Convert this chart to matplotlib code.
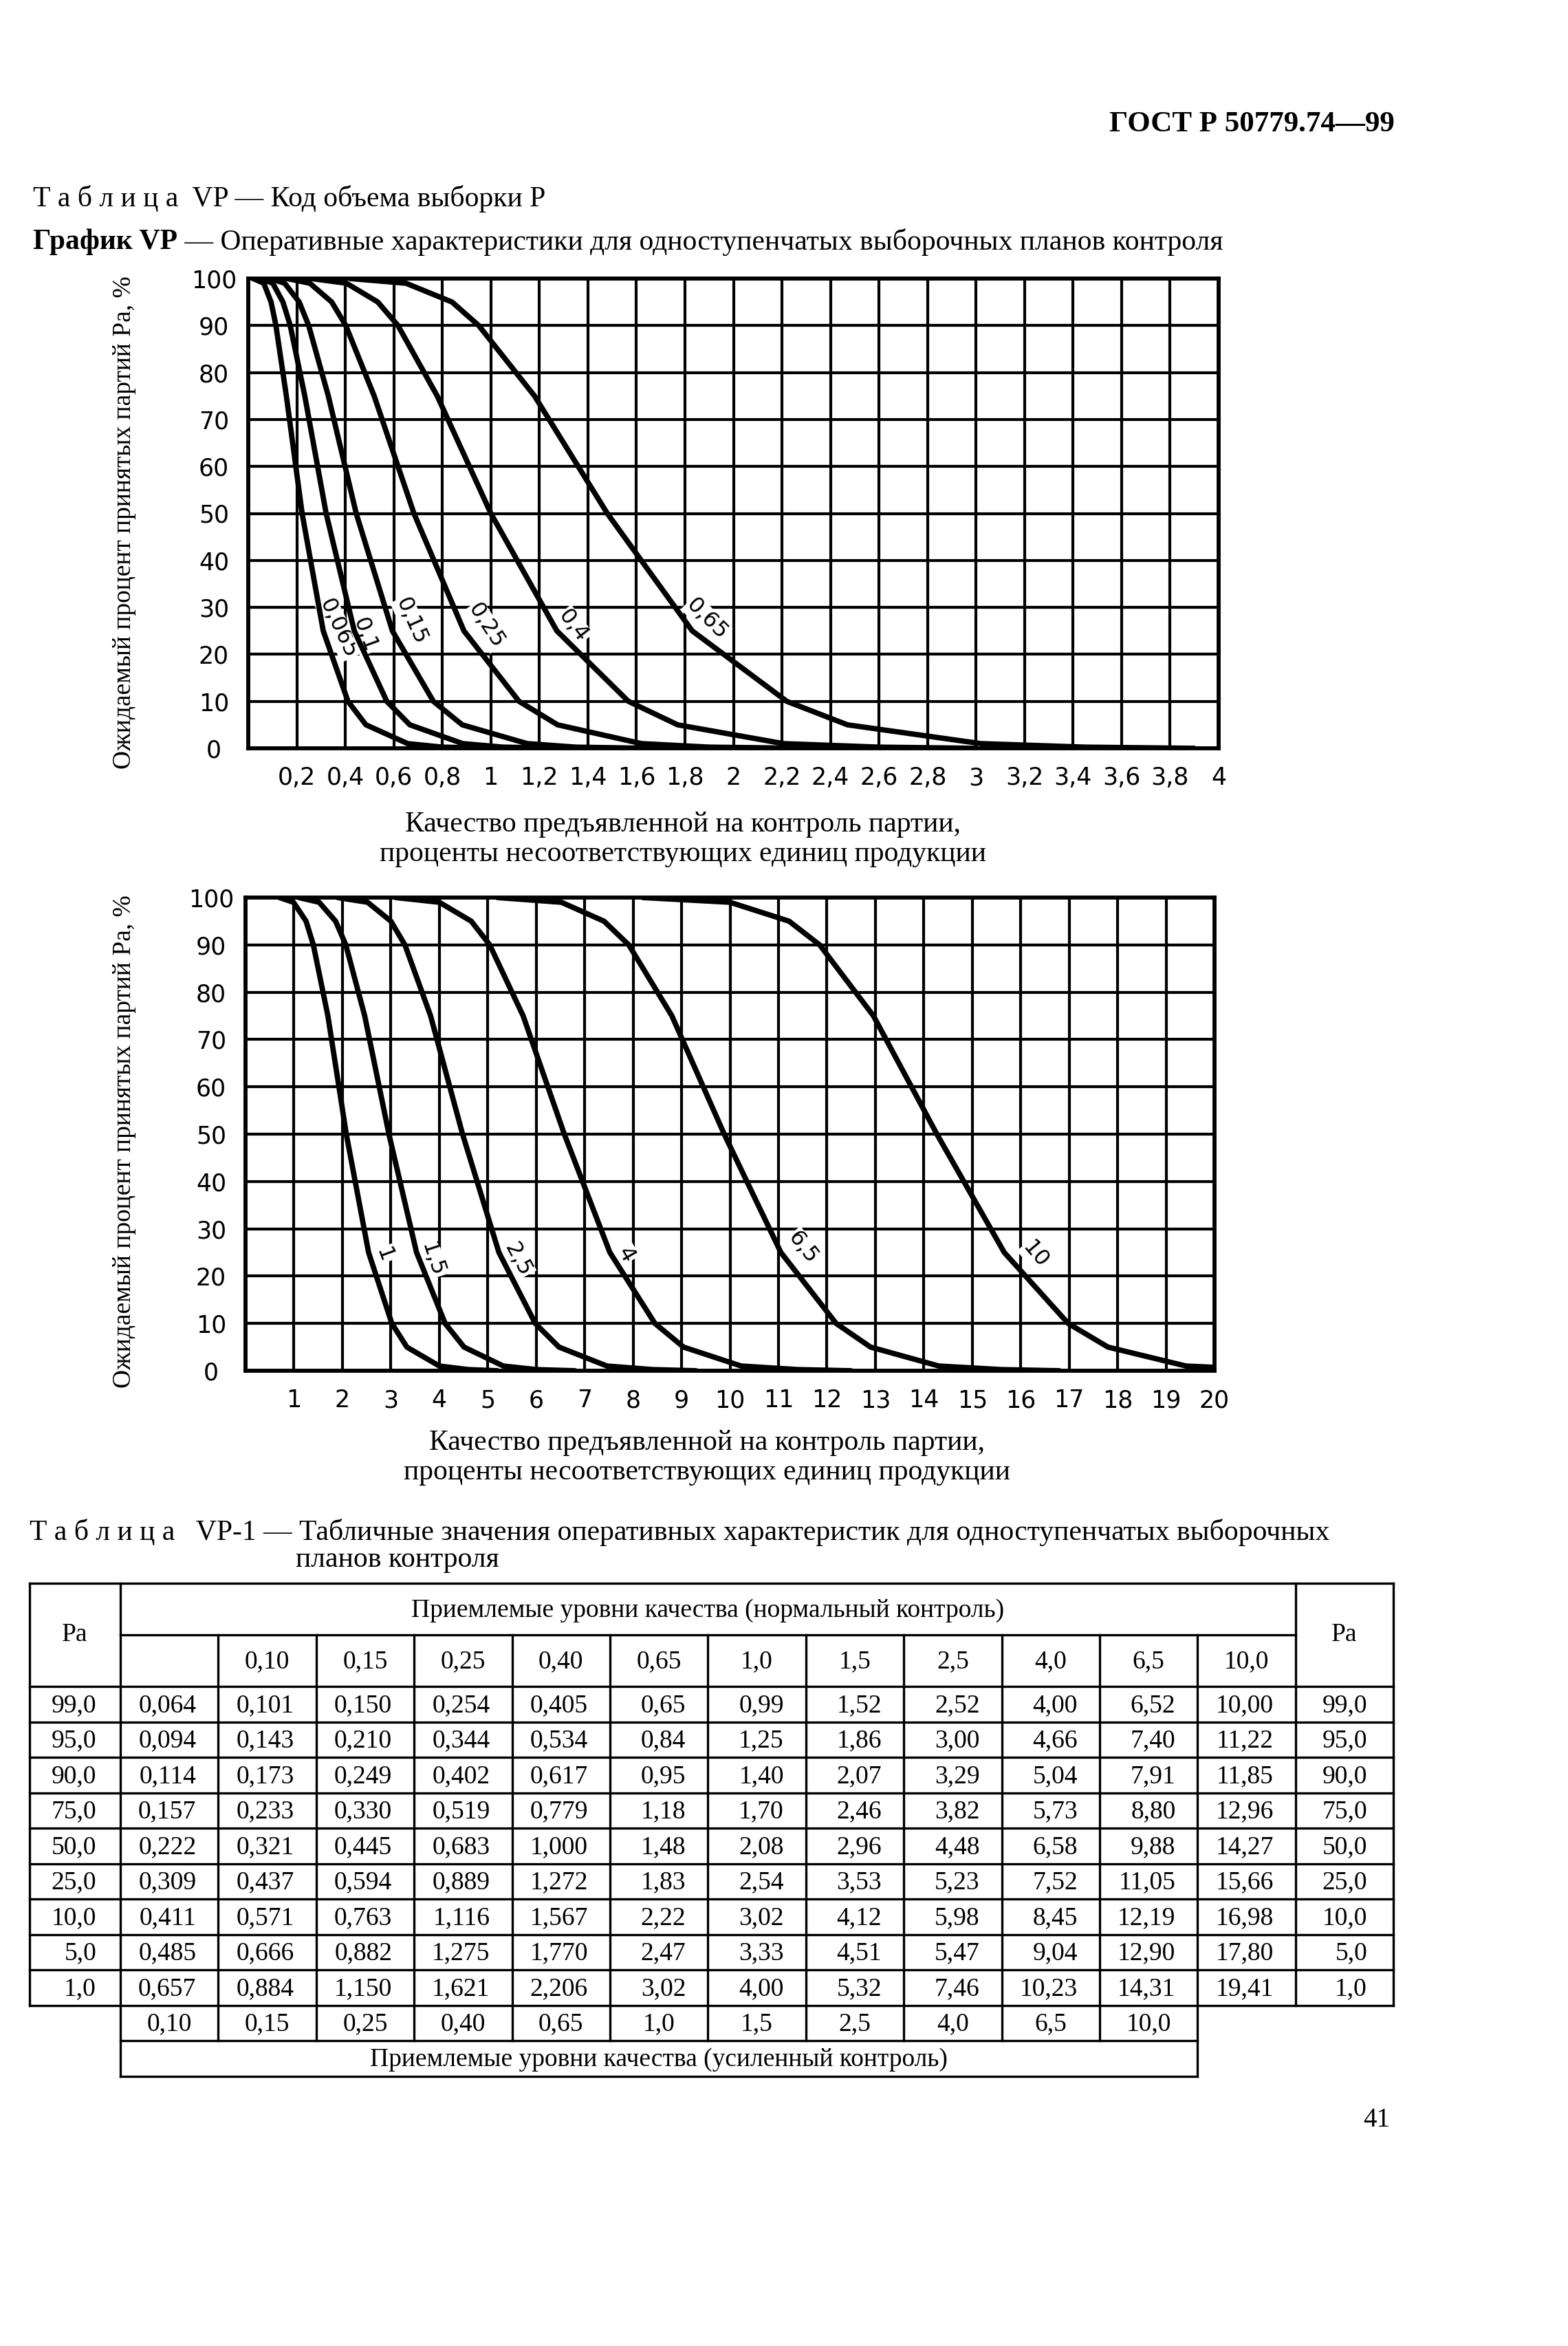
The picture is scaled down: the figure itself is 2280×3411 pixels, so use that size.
import numpy as np
import matplotlib
matplotlib.use('Agg')
import matplotlib.pyplot as plt
from matplotlib import font_manager

W, H = 2280, 3411

# ---- table VP-1 (strings as printed) ----
pa_rows = ["99,0", "95,0", "90,0", "75,0", "50,0", "25,0", "10,0", "5,0", "1,0"]
col_0065 = ["0,064", "0,094", "0,114", "0,157", "0,222", "0,309", "0,411", "0,485", "0,657"]
col_010 = ["0,101", "0,143", "0,173", "0,233", "0,321", "0,437", "0,571", "0,666", "0,884"]
col_015 = ["0,150", "0,210", "0,249", "0,330", "0,445", "0,594", "0,763", "0,882", "1,150"]
col_025 = ["0,254", "0,344", "0,402", "0,519", "0,683", "0,889", "1,116", "1,275", "1,621"]
col_040 = ["0,405", "0,534", "0,617", "0,779", "1,000", "1,272", "1,567", "1,770", "2,206"]
col_065 = ["0,65", "0,84", "0,95", "1,18", "1,48", "1,83", "2,22", "2,47", "3,02"]
col_10 = ["0,99", "1,25", "1,40", "1,70", "2,08", "2,54", "3,02", "3,33", "4,00"]
col_15 = ["1,52", "1,86", "2,07", "2,46", "2,96", "3,53", "4,12", "4,51", "5,32"]
col_25 = ["2,52", "3,00", "3,29", "3,82", "4,48", "5,23", "5,98", "5,47", "7,46"]
col_40 = ["4,00", "4,66", "5,04", "5,73", "6,58", "7,52", "8,45", "9,04", "10,23"]
col_65 = ["6,52", "7,40", "7,91", "8,80", "9,88", "11,05", "12,19", "12,90", "14,31"]
col_100 = ["10,00", "11,22", "11,85", "12,96", "14,27", "15,66", "16,98", "17,80", "19,41"]
table_cols = [col_0065, col_010, col_015, col_025, col_040, col_065,
              col_10, col_15, col_25, col_40, col_65, col_100]
aql_normal = ["", "0,10", "0,15", "0,25", "0,40", "0,65", "1,0", "1,5", "2,5", "4,0", "6,5", "10,0"]
aql_tight = ["0,10", "0,15", "0,25", "0,40", "0,65", "1,0", "1,5", "2,5", "4,0", "6,5", "10,0"]

# ---- graphs ----
top_labels = ["0,065", "0,1", "0,15", "0,25", "0,4", "0,65"]
bot_labels = ["1", "1,5", "2,5", "4", "6,5", "10"]
# where each curve leaves the 100 % line and where it sinks onto 0
top_start = [0.02, 0.05, 0.09, 0.16, 0.26, 0.42]
top_tail1 = [0.80, 1.05, 1.35, 1.90, 2.60, 3.45]
top_tail2 = [1.00, 1.30, 1.65, 2.30, 3.00, 3.90]
bot_start = [0.7, 1.1, 1.9, 3.1, 5.2, 8.2]
bot_tail1 = [4.6, 6.0, 8.4, 11.4, 15.6, 21.0]
bot_tail2 = [5.2, 6.8, 9.3, 12.5, 16.8, 23.0]
tail_pa = [0.25, 0.0]
# curve label position (p, Pa) and angle
top_lab_x = [0.37, 0.48, 0.67, 0.98, 1.34, 1.89]
top_lab_y = [25.5, 24.0, 27.0, 26.0, 26.0, 27.5]
top_lab_rot = [-65, -70, -66, -57, -52, -45]
bot_lab_x = [2.85, 3.85, 5.62, 7.85, 11.5, 16.3]
bot_lab_y = [24.5, 23.5, 23.5, 24.5, 26.0, 24.5]
bot_lab_rot = [-70, -72, -62, -60, -52, -50]

top_xticks = ["0,2", "0,4", "0,6", "0,8", "1", "1,2", "1,4", "1,6", "1,8", "2",
              "2,2", "2,4", "2,6", "2,8", "3", "3,2", "3,4", "3,6", "3,8", "4"]
bot_xticks = [str(i) for i in range(1, 21)]
yticks = ["0", "10", "20", "30", "40", "50", "60", "70", "80", "90", "100"]


def num(s):
    return float(s.replace(",", "."))


def have(name):
    try:
        font_manager.findfont(font_manager.FontProperties(family=name), fallback_to_default=False)
        return True
    except ValueError:
        return False


SERIF = ["Liberation Serif", "DejaVu Serif"]
if have("Liberation Sans Narrow"):
    TICKF, TICKS, LABS = "Liberation Sans Narrow", 31, 29
else:
    TICKF, TICKS, LABS = "DejaVu Sans", 25, 23

plt.rcParams["font.family"] = SERIF

fig = plt.figure(figsize=(W / 100, H / 100), dpi=100)
page = fig.add_axes([0, 0, 1, 1])
page.set_xlim(0, W)
page.set_ylim(H, 0)
page.axis("off")


def rect(l, t, r, b):
    return [l / W, 1 - b / H, (r - l) / W, (b - t) / H]


def chart(box, xmax, xt, start, t1, t2, cols, labs, lx, ly, lr):
    ax = fig.add_axes(rect(*box))
    ax.set_xlim(0, xmax)
    ax.set_ylim(0, 100)
    pos = [num(s) for s in xt]
    ax.set_xticks([0] + pos)
    ax.set_xticklabels([""] + xt, family=TICKF, fontsize=TICKS)
    ax.set_yticks([num(s) for s in yticks])
    ax.set_yticklabels(yticks, family=TICKF, fontsize=TICKS, ha="center")
    ax.tick_params(axis="x", length=0, pad=19)
    ax.tick_params(axis="y", length=0, pad=36)
    ax.set_axisbelow(True)
    ax.grid(True, color="black", lw=3.0)
    for sp in ax.spines.values():
        sp.set_linewidth(4.2)
    pa = [100.0] + [num(s) for s in pa_rows] + tail_pa
    for i, col in enumerate(cols):
        p = [start[i]] + [num(s) for s in col] + [t1[i], t2[i]]
        ax.plot(p, pa, color="black", lw=5.6, zorder=3,
                solid_joinstyle="round", solid_capstyle="round")
        ax.text(lx[i], ly[i], labs[i], rotation=lr[i], family=TICKF, fontsize=LABS,
                ha="center", va="center", rotation_mode="anchor", zorder=2.5,
                bbox=dict(facecolor="white", edgecolor="none", pad=1))
    return ax


# the 5 % value for 2,5 is misprinted in the table (5,47); the graph follows 6,47
bot_cols = [list(c) for c in table_cols[6:]]
bot_cols[2][7] = "6,47"

chart((361, 405, 1772, 1088), 4, top_xticks, top_start, top_tail1, top_tail2,
      table_cols[:6], top_labels, top_lab_x, top_lab_y, top_lab_rot)
chart((357, 1305, 1766, 1993), 20, bot_xticks, bot_start, bot_tail1, bot_tail2,
      bot_cols, bot_labels, bot_lab_x, bot_lab_y, bot_lab_rot)

# ---- page texts ----
page.text(2028, 181, "ГОСТ Р 50779.74—99", ha="right", va="center", fontsize=31, weight="bold")
page.text(48, 289, "Т а б л и ц а  VP — Код объема выборки Р", ha="left", va="center", fontsize=30)
r = fig.canvas.get_renderer()
t = page.text(48, 352, "График VP", ha="left", va="center", fontsize=30, weight="bold")
x1 = page.transData.inverted().transform(t.get_window_extent(r))[1][0]
page.text(x1, 352, " — Оперативные характеристики для одноступенчатых выборочных планов контроля",
          ha="left", va="center", fontsize=30)

ylab = "Ожидаемый процент принятых партий Ра, %"
xlab = "Качество предъявленной на контроль партии,\nпроценты несоответствующих единиц продукции"
page.text(181, 760, ylab, rotation=90, ha="center", va="center", fontsize=27)
page.text(181, 1660, ylab, rotation=90, ha="center", va="center", fontsize=27)
page.text(993, 1220, xlab, ha="center", va="center", fontsize=30, linespacing=1.15)
page.text(1028, 2119, xlab, ha="center", va="center", fontsize=30, linespacing=1.15)

page.text(43, 2228, "Т а б л и ц а   VP-1 — Табличные значения оперативных характеристик "
          "для одноступенчатых выборочных", ha="left", va="center", fontsize=30)
page.text(430, 2268, "планов контроля", ha="left", va="center", fontsize=30)
page.text(2002, 3083, "41", ha="center", va="center", fontsize=28)

# ---- table VP-1 ----
L, PA_R, CW, R = 43, 175, 142.4, 2026
T0, T1, T2, RH = 2302, 2376.5, 2452, 51.5
ncol = len(table_cols)
cx = [PA_R + k * CW for k in range(ncol + 1)]
rows_y = [T2 + k * RH for k in range(len(pa_rows) + 1)]
bot1, bot2 = rows_y[-1] + RH, rows_y[-1] + 2 * RH
lw = 2.4
kw = dict(color="black", lw=lw, solid_capstyle="projecting")
page.plot([L, R], [T0, T0], **kw)
page.plot([L, L], [T0, rows_y[-1]], **kw)
page.plot([R, R], [T0, rows_y[-1]], **kw)
page.plot([PA_R, cx[-1]], [T1, T1], **kw)
for y in rows_y:
    page.plot([L, R], [y, y], **kw)
page.plot([PA_R, PA_R], [T0, bot2], **kw)
page.plot([cx[-1], cx[-1]], [T0, rows_y[-1]], **kw)
for k in range(1, ncol):
    page.plot([cx[k], cx[k]], [T1, bot1 if k < ncol - 1 else bot2], **kw)
page.plot([PA_R, cx[ncol - 1]], [bot1, bot1], **kw)
page.plot([PA_R, cx[ncol - 1]], [bot2, bot2], **kw)

fs = 27
page.text((cx[0] + cx[-1]) / 2, (T0 + T1) / 2 + 2, "Приемлемые уровни качества (нормальный контроль)",
          ha="center", va="center", fontsize=fs)
page.text((L + PA_R) / 2, (T0 + T2) / 2, "Pa", ha="center", va="center", fontsize=fs)
page.text((cx[-1] + R) / 2, (T0 + T2) / 2, "Pa", ha="center", va="center", fontsize=fs)
for k, s in enumerate(aql_normal):
    page.text((cx[k] + cx[k + 1]) / 2, (T1 + T2) / 2 + 2, s, ha="center", va="center", fontsize=fs)
for i, s in enumerate(pa_rows):
    yc = (rows_y[i] + rows_y[i + 1]) / 2 + 2
    page.text(PA_R - 35, yc, s, ha="right", va="center", fontsize=fs)
    page.text(R - 38, yc, s, ha="right", va="center", fontsize=fs)
    for k, col in enumerate(table_cols):
        page.text(cx[k + 1] - 32, yc, col[i], ha="right", va="center", fontsize=fs)
for k, s in enumerate(aql_tight):
    page.text((cx[k] + cx[k + 1]) / 2, (rows_y[-1] + bot1) / 2 + 2, s, ha="center", va="center", fontsize=fs)
page.text((cx[0] + cx[ncol - 1]) / 2, (bot1 + bot2) / 2 + 2, "Приемлемые уровни качества (усиленный контроль)",
          ha="center", va="center", fontsize=fs)

fig.savefig("out.png", dpi=100, facecolor="white")
